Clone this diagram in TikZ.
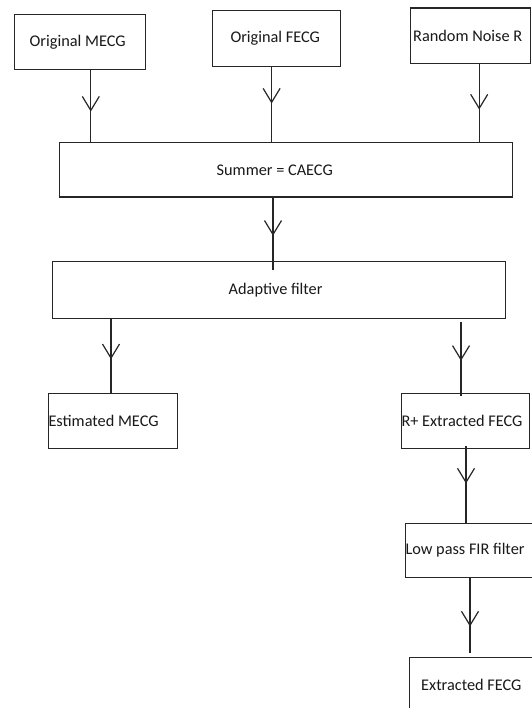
\documentclass[tikz,border=0pt]{standalone}
\usepackage{fontspec}
\setmainfont{Carlito}
\usetikzlibrary{decorations.markings,calc}
\tikzset{
  box/.style={draw=black!85, line width=1.2pt, rectangle, anchor=north west, inner sep=0pt},
  boxtext/.style={anchor=west, inner sep=0pt, font=\fontsize{16.3}{20}\selectfont, text=black!90},
  conn/.style={draw=black!85, line width=1.2pt,
    postaction={decorate, decoration={markings, mark=at position #1 with
      {\draw[line width=1.2pt, draw=black!85] (-14pt,-8.5pt) -- (0pt,0pt) -- (-14pt,8.5pt);}}}}
}
\newcommand\mybox[7]{%
  \pgfmathsetmacro\bw{#4-#2}\pgfmathsetmacro\bh{#5-#3}%
  \pgfmathsetmacro\bs{#6-#2}%
  \node[box, minimum width=\bw pt, minimum height=\bh pt,
    label={[boxtext, name=#1t, xshift=\bs pt]west:{#7}}] (#1) at (#2,#3) {};}
\begin{document}
\begin{tikzpicture}[x=1pt,y=-1pt]
\fill[white] (0,0) rectangle (531,708);
\useasboundingbox (0,0) rectangle (531,708);
\mybox{b1}{14}{14}{145}{69}{29.5}{Original MECG}
\mybox{b2}{211.6}{10}{339.6}{66}{230.3}{Original FECG}
\mybox{b3}{409.5}{7.4}{529.5}{62.6}{413}{Random Noise R}
\mybox{sum}{58.6}{142}{512}{196.4}{216.5}{Summer = CAECG}
\mybox{ad}{51.5}{261}{505}{317.5}{228.5}{Adaptive filter}
\mybox{est}{48}{393}{176.7}{448}{48.3}{Estimated MECG}
\mybox{rp}{401}{393}{529}{448}{401.3}{R+ Extracted FECG}
\mybox{low}{405}{523}{560}{577}{405.3}{Low pass FIR filter}
\mybox{ext}{409}{657}{560}{712}{421}{Extracted FECG}
\coordinate (x1) at (90.8,0);
\coordinate (x2) at (271.6,0);
\coordinate (x3) at (479.2,0);
\coordinate (x4) at (273,0);
\coordinate (x5) at (111,0);
\coordinate (x6) at (461,0);
\coordinate (x7) at (466,0);
\coordinate (x8) at (470,0);
\draw[conn=0.56] (b1.south -| x1) -- (sum.north -| x1);
\draw[conn=0.47] (b2.south -| x2) -- (sum.north -| x2);
\draw[conn=0.57] (b3.south -| x3) -- (sum.north -| x3);
\draw[conn=0.51] (sum.south -| x4) -- ($(ad.north -| x4)+(0,9)$);
\draw[conn=0.53] (ad.south -| x5) -- (est.north -| x5);
\draw[conn=0.51] ($(ad.south -| x6)+(0,3)$) -- ($(rp.north -| x6)+(0,3)$);
\draw[conn=0.47] ($(rp.south -| x7)+(0,-3)$) -- (low.north -| x7);
\draw[conn=0.63] (low.south -| x8) -- ($(ext.north -| x8)+(0,-4)$);
\end{tikzpicture}
\end{document}
